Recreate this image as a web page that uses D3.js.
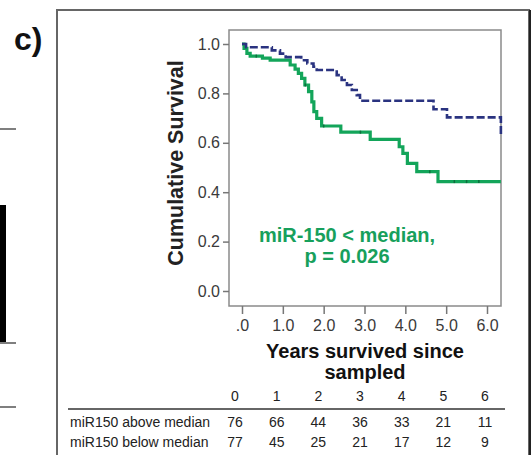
<!DOCTYPE html>
<html><head><meta charset="utf-8">
<script src="https://cdn.jsdelivr.net/npm/d3@7"></script>
<style>body{margin:0;background:#fff}svg{display:block}text{font-family:"Liberation Sans",Arial,sans-serif}</style>
</head><body>
<script>
// ---- data ----
const aboveTimes = [0, 0.1, 0.73, 0.93, 1.07, 1.45, 1.6, 1.75, 1.83, 2.32, 2.44, 2.57, 2.69, 2.81, 2.89, 4.69, 5.02, 6.34];
const aboveSurv  = [1.0, 0.987, 0.974, 0.961, 0.947, 0.934, 0.921, 0.908, 0.895, 0.874, 0.854, 0.834, 0.814, 0.793, 0.770, 0.736, 0.703, 0.632];
const belowTimes = [0, 0.05, 0.12, 0.2, 0.5, 0.69, 1.18, 1.30, 1.38, 1.46, 1.54, 1.63, 1.71, 1.76, 1.83, 1.95, 2.42, 3.14, 3.85, 3.94, 4.05, 4.28, 4.8, 6.34];
const belowSurv  = [1.0, 0.982, 0.962, 0.951, 0.943, 0.935, 0.915, 0.898, 0.881, 0.861, 0.834, 0.807, 0.766, 0.726, 0.699, 0.668, 0.643, 0.614, 0.584, 0.557, 0.517, 0.483, 0.443, 0.443];
const belowCensor = [0.35, 1.55, 2.0, 2.9, 4.6, 5.2, 5.5, 5.8];
const xTicks = [0, 1, 2, 3, 4, 5, 6];
const xTickLabels = [".0", "1.0", "2.0", "3.0", "4.0", "5.0", "6.0"];
const yTicks = [0, 0.2, 0.4, 0.6, 0.8, 1.0];
const riskYears = [0, 1, 2, 3, 4, 5, 6];
const riskGroups = ["miR150 above median", "miR150 below median"];
const riskAbove = [76, 66, 44, 36, 33, 21, 11];
const riskBelow = [77, 45, 25, 21, 17, 12, 9];
const annotation = ["miR-150 < median,", "p = 0.026"];

const W = 531, H = 455;
const svg = d3.select("body").append("svg").attr("width", W).attr("height", H);

// page decorations (neighbouring panel remnants)
const deco = svg.append("g");
[129, 343, 407].forEach(y => deco.append("line").attr("x1", 0).attr("x2", 16).attr("y1", y).attr("y2", y).attr("stroke", "#555").attr("stroke-width", 1.5));
deco.append("rect").attr("x", 0).attr("y", 205).attr("width", 6).attr("height", 137).attr("fill", "#000");
svg.append("text").attr("x", 14).attr("y", 50).attr("font-size", 32).attr("font-weight", "bold").attr("fill", "#111").text("c)");

// outer frame
svg.append("rect").attr("x", 57).attr("y", 10).attr("width", 472).attr("height", 460).attr("fill", "none").attr("stroke", "#666").attr("stroke-width", 2);
svg.append("line").attr("x1", 530).attr("x2", 530).attr("y1", 10).attr("y2", H).attr("stroke", "#222").attr("stroke-width", 2);

// scales
const plotL = 229, plotR = 501, plotT = 30, plotB = 306;
const x = d3.scaleLinear().domain([0, 6]).range([242, 487]);
const y = d3.scaleLinear().domain([0, 1]).range([291, 44]);

// plot frame
svg.append("rect").attr("x", plotL).attr("y", plotT).attr("width", plotR - plotL).attr("height", plotB - plotT)
  .attr("fill", "none").attr("stroke", "#8a8a8a").attr("stroke-width", 1.5);

// axes
const yAxis = d3.axisLeft(y).tickValues(yTicks).tickFormat(d3.format(".1f")).tickSize(6).tickPadding(3);
const gy = svg.append("g").attr("transform", `translate(${plotL},0)`).call(yAxis);
gy.select(".domain").remove();
gy.selectAll(".tick line").attr("stroke", "#777").attr("stroke-width", 1.5);
gy.selectAll(".tick text").attr("font-size", 16).attr("fill", "#3a3a3a").attr("font-family", "Liberation Sans, Arial, sans-serif");

const xAxis = d3.axisBottom(x).tickValues(xTicks).tickFormat((d, i) => xTickLabels[i]).tickSize(8).tickPadding(6);
const gx = svg.append("g").attr("transform", `translate(0,${plotB})`).call(xAxis);
gx.select(".domain").remove();
gx.selectAll(".tick line").attr("stroke", "#777").attr("stroke-width", 1.5);
gx.selectAll(".tick text").attr("font-size", 16).attr("fill", "#3a3a3a").attr("font-family", "Liberation Sans, Arial, sans-serif");

// axis titles
svg.append("text").attr("transform", `translate(176,163) rotate(-90)`)
  .attr("text-anchor", "middle").attr("dominant-baseline", "central")
  .attr("font-size", 21.5).attr("font-weight", "bold").attr("fill", "#222").text("Cumulative Survival");
svg.append("text").attr("x", 365).attr("y", 358).attr("text-anchor", "middle")
  .attr("font-size", 20).attr("font-weight", "bold").attr("fill", "#111").text("Years survived since");
svg.append("text").attr("x", 365).attr("y", 379).attr("text-anchor", "middle")
  .attr("font-size", 20).attr("font-weight", "bold").attr("fill", "#111").text("sampled");

// curves
const line = d3.line().x(d => x(d[0])).y(d => y(d[1])).curve(d3.curveStepAfter);
const aboveData = aboveTimes.map((t, i) => [t, aboveSurv[i]]);
const belowData = belowTimes.map((t, i) => [t, belowSurv[i]]);

svg.append("path").attr("d", line(belowData)).attr("fill", "none").attr("stroke", "#13a55a").attr("stroke-width", 3.2);
svg.append("path").attr("d", line(aboveData)).attr("fill", "none").attr("stroke", "#2a3380").attr("stroke-width", 2.6)
  .attr("stroke-dasharray", "8,3");

// censor marks on lower curve
const survAt = t => { let s = belowSurv[0]; belowTimes.forEach((bt, i) => { if (bt <= t) s = belowSurv[i]; }); return s; };
svg.selectAll(".cens").data(belowCensor).enter().append("line")
  .attr("x1", d => x(d)).attr("x2", d => x(d))
  .attr("y1", d => y(survAt(d)) - 1.5).attr("y2", d => y(survAt(d)) + 1.5)
  .attr("stroke", "#0d6e3d").attr("stroke-width", 1.5);

// annotation
annotation.forEach((t, i) => svg.append("text").attr("x", 347).attr("y", 242 + i * 21).attr("text-anchor", "middle")
  .attr("font-size", 20).attr("font-weight", "bold").attr("fill", "#17a05c").text(t));

// risk table
const col = d3.scalePoint().domain(riskYears).range([235, 485]);
svg.selectAll(".hdr").data(riskYears).enter().append("text")
  .attr("x", d => col(d)).attr("y", 401).attr("text-anchor", "middle")
  .attr("font-size", 14).attr("fill", "#222").text(d => d);
svg.append("line").attr("x1", 68).attr("x2", 505).attr("y1", 409).attr("y2", 409).attr("stroke", "#666").attr("stroke-width", 2);
[riskAbove, riskBelow].forEach((row, r) => {
  const yy = 427 + r * 20;
  svg.append("text").attr("x", 70).attr("y", yy).attr("font-size", 14).attr("fill", "#222").text(riskGroups[r]);
  svg.selectAll(".r" + r).data(row).enter().append("text")
    .attr("x", (d, i) => col(riskYears[i])).attr("y", yy).attr("text-anchor", "middle")
    .attr("font-size", 14).attr("fill", "#222").text(d => d);
});
</script>
</body></html>
